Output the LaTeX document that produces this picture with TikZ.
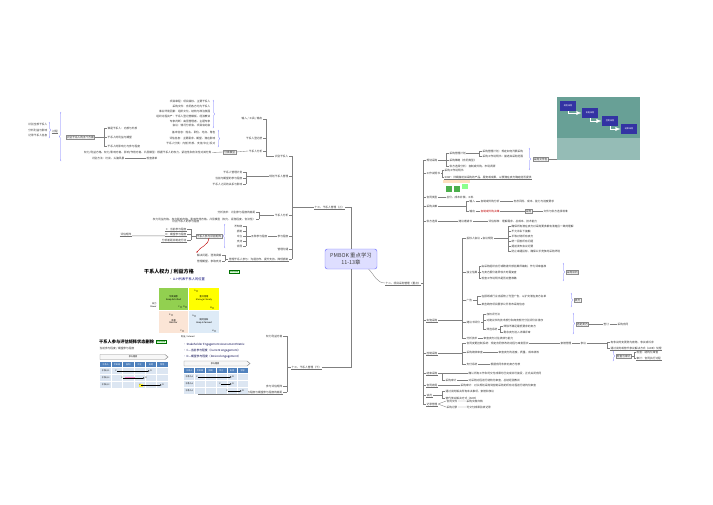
\documentclass[tikz,border=0pt]{standalone}
\usepackage{fontspec}
\setmainfont{Noto Sans CJK SC}
\usetikzlibrary{arrows.meta,positioning,decorations.pathreplacing}
\definecolor{gGreen}{RGB}{146,208,80}
\definecolor{gYellow}{RGB}{255,255,0}
\definecolor{gPeach}{RGB}{251,229,214}
\definecolor{gBlue}{RGB}{222,235,247}
\definecolor{hdrBlue}{RGB}{79,129,189}
\definecolor{rowBlue}{RGB}{220,230,242}
\definecolor{procTeal}{RGB}{104,160,150}

\begin{document}
\begin{tikzpicture}[x=0.03cm,y=-0.03cm,>=Latex]
\tikzstyle{txt}=[font=\fontsize{2.3}{2.7}\selectfont, inner sep=0.35pt, text=black!80]
\tikzstyle{lf}=[txt,anchor=east]
\tikzstyle{rf}=[txt,anchor=west]
\tikzstyle{ul}=[append after command={(\tikzlastnode.south west) edge[draw=black!55,line width=0.25pt] (\tikzlastnode.south east)}]
\tikzstyle{conn}=[draw=black!50,line width=0.3pt]
\tikzstyle{brc}=[draw=blue!55,line width=0.3pt,decorate,decoration={brace,amplitude=1.3pt}]
\tikzstyle{tag}=[txt,draw=black!45,fill=black!5,inner sep=0.6pt]
\tikzstyle{hub}=[draw=blue!55,fill=blue!13,rounded corners=2pt,align=center,minimum width=1.56cm,minimum height=0.6cm,font=\fontsize{4.6}{6}\selectfont,text=black!75]
\tikzstyle{logo}=[draw=green!45!black,fill=green!12,text=green!40!black,font=\fontsize{1.8}{2}\selectfont,inner sep=0.5pt]
\tikzstyle{cell}=[minimum width=0.92cm,minimum height=0.69cm,inner sep=0,draw=white,line width=0.3pt,align=center,font=\fontsize{1.9}{2.3}\selectfont]
\tikzstyle{tiny}=[font=\fontsize{1.8}{2}\selectfont,inner sep=0.2pt]

\fill[white] (0,0) rectangle (713,504);
\useasboundingbox (0,0) rectangle (713,504);

% centre
\node[hub] (root) at (351,259) {PMBOK 重点学习\\11-13章};

% ---------- 13 upper
\node[lf,ul] (b1) at (345,207) {十三、干系人管理（上）};
\coordinate (s1) at (292,207);
\node[lf] (a1) at (289,156) {识别干系人};
\node[lf] (a2) at (289,176) {规划干系人管理};
\node[lf] (a3) at (289,215) {干系人分析};
\node[lf] (a4) at (289,236) {参与程度};
\node[lf] (a5) at (289,249) {管理沟通};
\node[lf,ul] (a6) at (289,259) {管理干系人参与：沟通协作、提升支持、降低抵制};
\draw[conn] (root.north) |- (b1.east);
\draw[conn] (b1.west) -- (s1) (a1.east -| s1) -- (a6.east -| s1);
\foreach \n in {a1,a2,a3,a4,a5,a6} \draw[conn] (\n.east) -- (\n.east -| s1);

\coordinate (k1) at (266,0);
\node[lf] (a11) at (263,119) {输入 / 工具 / 输出};
\node[lf] (a12) at (263,138) {干系人登记册};
\node[lf] (a13) at (263,151) {干系人分析};
\draw[conn] (a1.west) -- (a1.west -| k1) -- (a11.east -| k1);
\foreach \n in {a11,a12,a13} \draw[conn] (\n.east) -- (\n.east -| k1);
\foreach \t [count=\i] in {项目章程：项目目标、主要干系人,采购文件：合同各方均为干系人,事业环境因素：组织文化、结构与政治氛围,组织过程资产：干系人登记册模板、经验教训,专家判断：高层管理者、主题专家,会议：情况分析会、项目启动会}
  \node[lf] (a11\i) at (211,97+4.8*\i) {\t};
\draw[brc] (213,100) -- (213,128);
\foreach \t [count=\i] in {基本信息：姓名、职位、地点、角色,评估信息：主要需求、期望、潜在影响,干系人分类：内部/外部、支持/中立/反对}
  \node[lf] (a12\i) at (216,127+5.5*\i) {\t};
\draw[brc] (218,130) -- (218,147);
\node[tag,anchor=east] (a131) at (236,152) {分类模型};
\node[lf] (a132) at (212,152.5) {权力/利益方格、权力/影响方格、影响/作用方格、凸显模型：根据干系人的权力、紧迫性和合法性对其分类};
\draw[conn] (a13.west) -- (a131.east) (a131.west) -- (a132.east);

% left group
\foreach \t [count=\i] in {识别全部干系人,分析利益与影响,记录干系人信息}
  \node[lf] (p\i) at (48,119+5.5*\i) {\t};
\draw[brc] (49,122) -- (49,138);
\node[txt,ul] (p0) at (55,131) {过程};
\draw[brc] (61,161) -- (61,112);
\node[tag,anchor=west] (q0) at (66,137) {识别干系人的五个方面};
\coordinate (k0) at (104,0);
\foreach \t [count=\i] in {谁是干系人：内部与外部,干系人的利益与期望,干系人的影响力与参与程度}
  \node[rf] (q\i) at (107,119+9*\i) {\t};
\draw[conn] (q0.east) -- (q0.east -| k0) (q1.west -| k0) -- (q3.west -| k0);
\foreach \n in {q1,q2,q3} \draw[conn] (\n.west) -- (\n.west -| k0);
\node[lf] (q4) at (125,158) {识别方法：访谈、头脑风暴};
\node[lf] (q5) at (158,158) {检查清单};
\draw[conn] (q4.east) -- (q5.west);

% plan
\coordinate (k2) at (246,0);
\foreach \t [count=\i] in {干系人管理计划,当前与期望的参与程度,干系人之间的关系与影响}
  \node[lf] (a2\i) at (243,166+6*\i) {\t};
\draw[conn] (a2.west) -- (a2.west -| k2) (a21.east -| k2) -- (a23.east -| k2);
\foreach \n in {a21,a22,a23} \draw[conn] (\n.east) -- (\n.east -| k2);

% analysis
\coordinate (k3) at (259,0);
\node[lf] (a31) at (256,212) {分析技术：识别参与程度的差距};
\node[lf] (a32) at (256,219) {权力利益方格、权力影响方格、影响作用方格、凸显模型（权力、紧急程度、合法性）};
\draw[conn] (a3.west) -- (a3.west -| k3) (a31.east -| k3) -- (a32.east -| k3);
\foreach \n in {a31,a32} \draw[conn] (\n.east) -- (\n.east -| k3);

% engagement
\node[lf] (a41) at (268,236) {五种参与程度};
\draw[conn] (a4.west) -- (a41.east);
\coordinate (k4) at (246,0);
\foreach \t [count=\i] in {不知晓,抵制,中立,支持,领导}
  \node[lf] (a42\i) at (243,221+5*\i) {\t};
\draw[conn] (a41.west) -- (a41.west -| k4) (a421.east -| k4) -- (a425.east -| k4);
\foreach \n in {a421,a422,a423,a424,a425} \draw[conn] (\n.east) -- (\n.east -| k4);
\draw[brc] (225,248) -- (225,224);
\node[tag,anchor=east] (bx) at (222,236) {干系人参与评估矩阵};
\coordinate (k5) at (191,0);
\node[lf,ul] (c1) at (187,229) {C：当前参与程度};
\node[lf,ul] (c2) at (187,234) {D：期望参与程度};
\node[lf,ul] (c3) at (187,240) {分析差距并制定行动};
\draw[conn] (bx.west) -- (bx.west -| k5) (c1.east -| k5) -- (c3.east -| k5);
\foreach \n in {c1,c2,c3} \draw[conn] (\n.east) -- (\n.east -| k5);
\node[lf,ul] (c4) at (132,234) {评估矩阵};
\draw[conn] (c4.south east) -- (c2.south west);
\node[lf] (a01) at (200,221) {识别干系人的参与程度};

% manage
\coordinate (k6) at (225,0);
\node[lf] (a61) at (222,255) {解决问题、澄清误解};
\node[lf] (a62) at (222,261) {管理期望、争取支持};
\draw[conn] (a6.west) -- (a6.west -| k6) (a61.east -| k6) -- (a62.east -| k6);
\foreach \n in {a61,a62} \draw[conn] (\n.east) -- (\n.east -| k6);
\draw[red!75!black,line width=0.35pt,-{Latex[length=1.5pt]}] (bx.south) to[out=-95,in=60] (a61.north west);

% ---------- 13 lower
\node[lf,ul] (b3) at (322,367) {十三、干系人管理（下）};
\coordinate (s3) at (287,367);
\draw[conn] (root.south) |- (b3.east);
\node[lf] (d1) at (283,336) {权力利益方格};
\node[lf] (d2) at (283,386) {参与评估矩阵};
\node[lf,ul] (d3) at (283,392) {干系人参与评估矩阵：比较干系人当前参与程度与期望参与程度的差距};
\draw[conn] (b3.west) -- (s3) (d1.east -| s3) -- (d3.east -| s3);
\foreach \n in {d1,d2,d3} \draw[conn] (\n.east) -- (\n.east -| s3);

% power / interest grid
\node[anchor=west,inner sep=0,font=\fontsize{4.3}{5}\selectfont\bfseries] (gt) at (144,272) {干系人权力 / 利益方格};
\node[logo,anchor=west] (lg1) at (229,272) {项目管理};
\node[anchor=west,inner sep=0,text=blue!45!black,font=\fontsize{2.8}{3}\selectfont] (gs) at (169,279) {• A-H代表干系人的位置};
\node[cell,fill=gGreen] (gq1) at (173.5,298.5) {令其满意\\Keep Satisfied};
\node[cell,fill=gYellow] (gq2) at (204,298.5) {重点管理\\Manage Closely};
\node[cell,fill=gPeach] (gq3) at (173.5,321.5) {监督\\Monitor};
\node[cell,fill=gBlue] (gq4) at (204,321.5) {随时告知\\Keep Informed};
\foreach \x/\y/\l in {197/291/A,213/308/B,181/307/C,186/307/D,172/315/E,183/331/F,195/316/G,215/331/H} {
  \fill (\x,\y) circle (0.7);
  \node[tiny,anchor=east] (gd\l) at (\x-0.8,\y) {\l};
}
\node[tiny,align=right,anchor=east] (gy) at (157,305) {权力\\Power};
\node[tiny] (gx) at (188,337) {利益 / Interest};

% engagement matrix, left
\node[anchor=west,inner sep=0,font=\fontsize{3.6}{4}\selectfont\bfseries] (mt1) at (99,342) {干系人参与评估矩阵状态删除};
\node[logo,anchor=west] (lg2) at (156,342) {项目管理};
\node[txt,anchor=west] (ms1) at (99,349) {当前参与程度 / 期望参与程度};
\draw[black!45,fill=black!3] (100,354.5) -- (165,354.5) -- (168,357) -- (165,359.5) -- (100,359.5) -- cycle;
\node[tiny] (ar1) at (133,357) {参与程度};
\fill[hdrBlue] (100,362) rectangle (168,367);
\foreach \t [count=\i] in {干系人,不知晓,抵制,中立,支持,领导}
  \node[tiny,text=white] (mh\i) at (94.33+11.33*\i,364.5) {\t};
\foreach \r in {1,2,3} {
  \fill[rowBlue] (100,361+7*\r) rectangle (168,367+7*\r);
  \node[tiny] (mr\r) at (105.7,364+7*\r) {干系人\r};
}
\foreach \i in {1,...,5} \draw[white,line width=0.3pt] (100+11.33*\i,362) -- (100+11.33*\i,388);
\fill[magenta!45] (125,377.2) rectangle (135,378.8);
\fill[yellow!80] (138.5,383.5) rectangle (142.5,386.5);
\foreach \r/\c/\d in {1/116/151,2/122/146,3/140/163} {
  \node[tiny] (mc\r) at (\c,364+7*\r) {C};
  \node[tiny] (md\r) at (\d,364+7*\r) {D};
  \draw[line width=0.35pt,-{Latex[length=1.4pt]}] (mc\r) -- (md\r);
}

% engagement matrix, right
\foreach \t [count=\i] in {Stakeholder Engagement Assessment Matrix,C—当前参与程度（Current engagement）,D—期望参与程度（Desired engagement）}
  \node[anchor=west,inner sep=0,text=blue!30!black,font=\fontsize{2.4}{2.7}\selectfont] (mb\i) at (183,339+6*\i) {• \t};
\draw[black!45,fill=black!3] (184,361) -- (247,361) -- (250,363.5) -- (247,366) -- (184,366) -- cycle;
\node[tiny] (ar2) at (215,363.5) {参与程度};
\fill[hdrBlue] (184,368) rectangle (248,373);
\foreach \t [count=\i] in {干系人,不知晓,抵制,中立,支持,领导}
  \node[tiny,text=white] (nh\i) at (178.67+10.67*\i,370.5) {\t};
\foreach \r in {1,2,3} {
  \fill[rowBlue] (184,367+7*\r) rectangle (248,373+7*\r);
  \node[tiny] (nr\r) at (189.3,370+7*\r) {干系人\r};
}
\foreach \i in {1,...,5} \draw[white,line width=0.3pt] (184+10.67*\i,368) -- (184+10.67*\i,394);
\foreach \r/\c/\d in {1/197/233,2/220/233,3/227/243} {
  \node[tiny] (nc\r) at (\c,370+7*\r) {C};
  \node[tiny] (nd\r) at (\d,370+7*\r) {D};
  \draw[line width=0.35pt,-{Latex[length=1.4pt]}] (nc\r) -- (nd\r);
}

% ---------- 12
\node[rf,ul] (b2) at (385,283) {十二、项目采购管理（重点）};
\coordinate (s2) at (423,283);
\draw[conn] (root.-30) to[out=-45,in=180] (b2.west);
\node[rf] (e1) at (426,160) {规划采购};
\node[rf] (e2) at (426,173) {工作说明书};
\node[rf] (e3) at (426,197) {合同类型};
\node[rf] (e4) at (426,206) {采购决策};
\node[rf] (e5) at (426,221) {供方选择};
\node[rf,ul] (e6) at (426,320) {实施采购};
\node[rf,ul] (e7) at (426,353) {控制采购};
\node[rf,ul] (e8) at (426,373) {结束采购};
\node[rf,ul] (e9) at (426,385) {合同收尾};
\node[rf,ul] (e10) at (426,395) {谈判};
\node[rf,ul] (e11) at (426,404) {记录管理};
\draw[conn] (b2.east) -- (s2) (e1.west -| s2) -- (e11.west -| s2);
\foreach \n in {e1,e2,e3,e4,e5,e6,e7,e8,e9,e10,e11} \draw[conn] (\n.west) -- (\n.west -| s2);

% plan procurement
\coordinate (m1) at (446,0);
\node[rf] (e1a) at (449,153) {采购管理计划};
\node[rf] (e1b) at (449,160) {采购策略（合同类型）};
\node[rf] (e1c) at (449,166) {供方选择分析：自制或外购、市场调研};
\draw[conn] (e1.east) -- (e1.east -| m1) (e1a.west -| m1) -- (e1c.west -| m1);
\foreach \n in {e1a,e1b,e1c} \draw[conn] (\n.west) -- (\n.west -| m1);
\coordinate (m2) at (479,0);
\node[rf] (e1a1) at (482,151) {采购管理计划：规定如何开展采购};
\node[rf] (e1a2) at (482,156) {采购工作说明书：描述拟采购范围};
\draw[conn] (e1a.east) -- (e1a.east -| m2) (e1a1.west -| m2) -- (e1a2.west -| m2);
\foreach \n in {e1a1,e1a2} \draw[conn] (\n.west) -- (\n.west -| m2);
\draw[brc] (529,148) -- (529,170);
\node[tag,anchor=west] (bx2) at (533,159) {采购文件包};

% process picture
\node[fill=procTeal,minimum width=2.49cm,minimum height=1.89cm,inner sep=0,anchor=north west] (proc) at (557,97) {};
\fill[procTeal!70!white] (557,138) rectangle (640,160);
\node[fill=blue!55!black!80,text=white,tiny,minimum width=0.5cm,minimum height=0.3cm] (pb1) at (568,106) {规划采购};
\node[fill=blue!55!black!80,text=white,tiny,minimum width=0.5cm,minimum height=0.3cm] (pb2) at (590,113) {实施采购};
\node[fill=blue!55!black!80,text=white,tiny,minimum width=0.5cm,minimum height=0.3cm] (pb3) at (610,121) {控制采购};
\node[fill=blue!55!black!80,text=white,tiny,minimum width=0.5cm,minimum height=0.3cm] (pb4) at (629,129) {结束采购};
\draw[white,line width=0.3pt,->] (pb1) |- (pb2);
\draw[white,line width=0.3pt,->] (pb2) |- (pb3);
\draw[white,line width=0.3pt,->] (pb3) |- (pb4);
\draw[conn] (bx2.east) -- (bx2.east -| proc.west);

% statement of work
\coordinate (m3) at (442,0);
\node[rf] (e2a) at (444,170) {采购工作说明书};
\node[rf,ul] (e2b) at (444,177) {SOW：详细描述拟采购的产品、服务或成果，以便潜在卖方确定能否提供};
\draw[conn] (e2.east) -- (e2.east -| m3) (e2a.west -| m3) -- (e2b.west -| m3);
\foreach \n in {e2a,e2b} \draw[conn] (\n.west) -- (\n.west -| m3);
\fill[orange!25] (443,180) rectangle (470,183);
\fill[green!55!black!70] (446,186) rectangle (452,192);
\fill[green!55!black!70] (454,186) rectangle (460,192);
\fill[green!45] (462,183.5) rectangle (468,189);

% contract types, decisions
\node[rf] (e3a) at (446,197) {总价、成本补偿、工料};
\draw[conn] (e3.east) -- (e3a.west);
\coordinate (m4) at (466,0);
\node[rf] (e4a) at (469,201) {输入};
\node[rf] (e4b) at (469,211) {输出};
\draw[conn] (e4.east) -- (e4.east -| m4) (e4a.west -| m4) -- (e4b.west -| m4);
\foreach \n in {e4a,e4b} \draw[conn] (\n.west) -- (\n.west -| m4);
\node[rf] (e4a1) at (480,201) {自制或外购分析};
\node[rf] (e4a2) at (513,201) {考虑风险、成本、能力与进度要求};
\node[rf,text=red!75!black] (e4b1) at (480,211) {自制或外购决策};
\node[tag,anchor=west] (e4b2) at (525,211) {采购};
\node[rf] (e4b3) at (543,211) {文件与供方选择标准};
\draw[conn] (e4a.east) -- (e4a1.west) (e4a1.east) -- (e4a2.west) (e4b.east) -- (e4b1.west) (e4b1.east) -- (e4b2.west) (e4b2.east) -- (e4b3.west);
\node[rf] (e5a) at (458,221) {建议邀请书};
\node[rf] (e5b) at (488,221) {评估标准：理解需求、总成本、技术能力};
\draw[conn] (e5.east) -- (e5a.west) (e5a.east) -- (e5b.west);

% conduct procurements
\coordinate (m5) at (462,0);
\node[rf] (f1) at (466,238) {投标人会议};
\node[rf] (f2) at (466,272) {独立估算};
\node[rf] (f3) at (466,300) {广告};
\node[rf] (f4) at (466,322) {建议书评价};
\node[rf] (f5) at (466,338) {分析技术};
\draw[conn] (e6.east) -- (e6.east -| m5) (f1.west -| m5) -- (f5.west -| m5);
\foreach \n in {f1,f2,f3,f4,f5} \draw[conn] (\n.west) -- (\n.west -| m5);
\node[rf] (f1a) at (482,238) {会议规则};
\draw[conn] (f1.east) -- (f1a.west);
\coordinate (m6) at (508,0);
\foreach \t [count=\i] in {确保所有潜在卖方对采购要求都有清楚且一致的理解,不允许私下接触,平等对待所有卖方,统一回答所有问题,提前发布会议纪要,防止串通投标，确保公平竞争的采购环境}
  \node[rf] (f1\i) at (511,221+5*\i) {\t};
\draw[conn] (f1a.east) -- (f1a.east -| m6) (f11.west -| m6) -- (f16.west -| m6);
\foreach \n in {f11,f12,f13,f14,f15,f16} \draw[conn] (\n.west) -- (\n.west -| m6);

\coordinate (m7) at (479,0);
\node[rf] (f21) at (481,266) {由采购组织自行或聘请外部估算师编制，作为评审基准};
\node[rf] (f22) at (481,272) {与卖方报价差异较大时需复查};
\node[rf] (f23) at (481,278) {检查工作说明书是否完整准确};
\draw[conn] (f2.east) -- (f2.east -| m7) (f21.west -| m7) -- (f23.west -| m7);
\foreach \n in {f21,f22,f23} \draw[conn] (\n.west) -- (\n.west -| m7);
\draw[brc] (563,263) -- (563,281);
\node[tag,anchor=west] (f2t) at (566,272) {采购谈判};

\coordinate (m8) at (477,0);
\node[rf] (f31) at (481,296) {在报纸或行业出版物上刊登广告，以扩充潜在卖方名单};
\node[rf] (f32) at (481,304) {某些政府项目要求公开发布采购信息};
\draw[conn] (f3.east) -- (f3.east -| m8) (f31.west -| m8) -- (f32.west -| m8);
\foreach \n in {f31,f32} \draw[conn] (\n.west) -- (\n.west -| m8);
\draw[brc] (571,293) -- (571,307);
\node[tag,anchor=west] (f3t) at (574,300) {卖方};

\coordinate (m9) at (483,0);
\node[rf] (f41) at (486,314) {加权评分法};
\node[rf] (f42) at (486,320) {对建议书的技术部分和商务部分分别评价并排序};
\node[rf] (f43) at (486,329) {筛选系统};
\draw[conn] (f4.east) -- (f4.east -| m9) (f41.west -| m9) -- (f43.west -| m9);
\foreach \n in {f41,f42,f43} \draw[conn] (\n.west) -- (\n.west -| m9);
\coordinate (m10) at (500,0);
\node[rf] (f431) at (503,326) {筛除不满足最低要求的卖方};
\node[rf] (f432) at (503,332) {剩余卖方进入详细评审};
\draw[conn] (f43.east) -- (f43.east -| m10) (f431.west -| m10) -- (f432.west -| m10);
\foreach \n in {f431,f432} \draw[conn] (\n.west) -- (\n.west -| m10);
\draw[brc] (573,313) -- (573,334);
\node[tag,anchor=west] (f4t) at (576,324) {选定卖方};
\node[rf] (f4u) at (603,324) {签订};
\node[rf] (f4v) at (617,324) {采购合同};
\draw[conn] (f4t.east) -- (f4u.west) (f4u.east) -- (f4v.west);
\node[rf] (f51) at (483,338) {审查卖方过往绩效与能力};
\draw[conn] (f5.east) -- (f51.west);

% control procurements
\node[rf] (h1) at (466,343) {合同变更控制系统：规定合同修改的过程与审批层次};
\node[rf] (h2) at (466,352) {采购绩效审查};
\node[rf] (h3) at (466,364) {支付系统};
\draw[conn] (e7.east) -- (e7.east -| m5) (h1.west -| m5) -- (h3.west -| m5);
\foreach \n in {h1,h2,h3} \draw[conn] (\n.west) -- (\n.west -| m5);
\node[rf] (h1a) at (560,343) {索赔管理};
\node[rf] (h1b) at (580,343) {争议};
\coordinate (m11) at (607,0);
\node[rf] (h1c) at (610,342) {有争议的变更称为索赔、争议或诉求};
\node[rf,ul] (h1d) at (610,348) {通过谈判或替代争议解决方式（ADR）处理};
\draw[conn] (h1.east) -- (h1a.west) (h1a.east) -- (h1b.west) (h1b.east) -- (h1b.east -| m11) (h1c.west -| m11) -- (h1d.west -| m11);
\foreach \n in {h1c,h1d} \draw[conn] (\n.west) -- (\n.west -| m11);
\node[rf] (h2a) at (498,352) {审查卖方的进度、质量、成本绩效};
\draw[conn] (h2.east) -- (h2a.west);
\draw[brc] (613,351) -- (613,361);
\node[tag,anchor=west] (h2t) at (616,356) {检查与审计};
\coordinate (m12) at (634,0);
\node[rf] (h2b) at (636,352) {检查：结构化审查};
\node[rf,ul] (h2c) at (636,358) {审计：合同执行过程};
\draw[conn] (h2t.east) -- (h2t.east -| m12) (h2b.west -| m12) -- (h2c.west -| m12);
\foreach \n in {h2b,h2c} \draw[conn] (\n.west) -- (\n.west -| m12);
\node[rf] (h3a) at (490,364) {根据合同条款向卖方付款};
\draw[conn] (h3.east) -- (h3a.west);

% close procurements
\coordinate (m13) at (442,0);
\node[rf] (e8a) at (468,373) {确认所有工作和可交付成果均已完成并可接受，正式关闭合同};
\node[rf] (e8b) at (445,380) {采购审计};
\node[rf] (e8c) at (468,380) {对采购过程进行结构化审查，总结经验教训};
\draw[conn] (e8.east) -- (e8a.west) (e8.east -| m13) -- (e8b.west -| m13) -- (e8b.west) (e8b.east) -- (e8c.west);
\node[rf] (e9a) at (460,385) {采购审计：对从规划采购到控制采购的所有过程进行结构化审查};
\draw[conn] (e9.east) -- (e9a.west);
\node[rf] (e10a) at (445,391) {通过谈判解决所有未决事项、索赔和争议};
\node[rf] (e10b) at (445,398) {替代争议解决方式（ADR）};
\draw[conn] (e10.east) -- (e10.east -| m13) (e10a.west -| m13) -- (e10b.west -| m13);
\foreach \n in {e10a,e10b} \draw[conn] (\n.west) -- (\n.west -| m13);
\node[rf] (e11a) at (446,401) {合同文件};
\node[rf] (e11b) at (446,407) {采购记录};
\node[rf] (e11c) at (466,401) {采购文档归档};
\node[rf] (e11d) at (466,407) {可交付成果验收记录};
\draw[conn] (e11.east) -- (e11a.west) (e11.east) -- (e11b.west) (e11a.east) -- (e11c.west) (e11b.east) -- (e11d.west);
\end{tikzpicture}
\end{document}
